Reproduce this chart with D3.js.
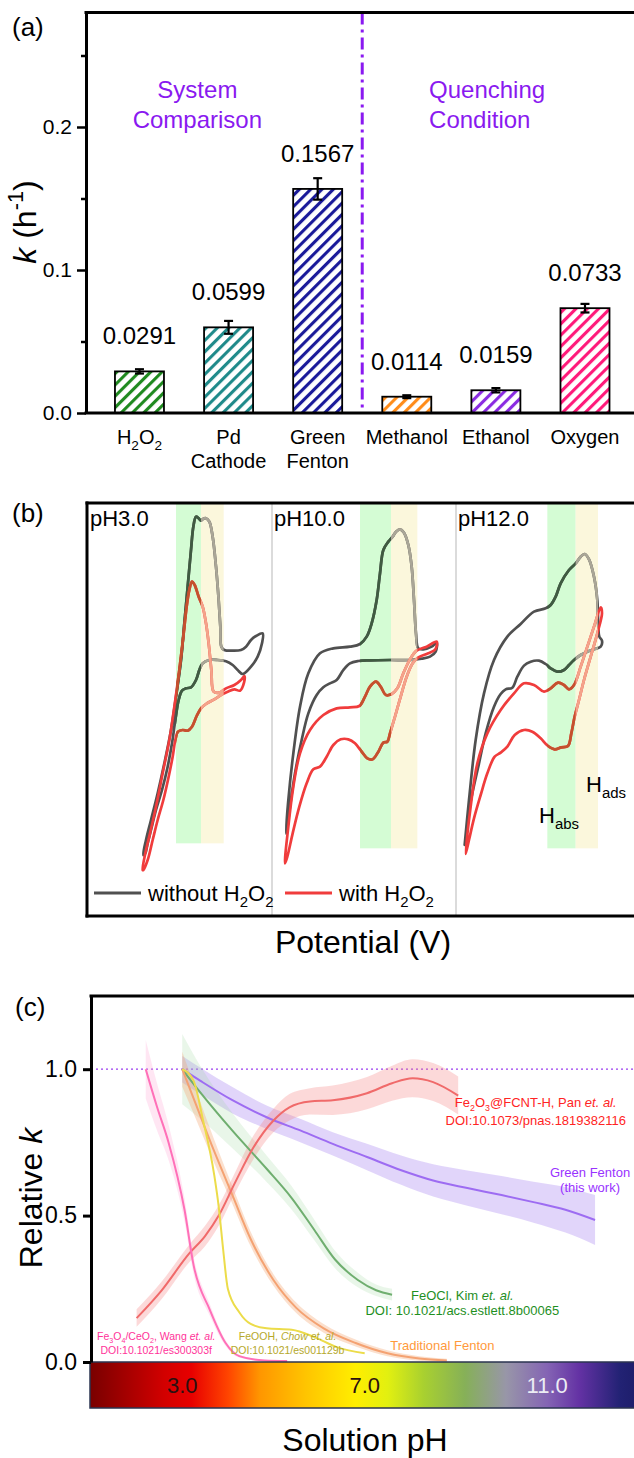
<!DOCTYPE html>
<html>
<head>
<meta charset="utf-8">
<script src="https://cdn.jsdelivr.net/npm/d3@7"></script>
<style>
  body { margin: 0; background: #fff; }
  svg { display: block; font-family: "Liberation Sans", Arial, sans-serif; }
</style>
</head>
<body>
<div class="container"></div>
<script>
// ---------- (a) rate constants ----------
const categoryLines = [["H_{2}O_{2}"], ["Pd", "Cathode"], ["Green", "Fenton"], ["Methanol"], ["Ethanol"], ["Oxygen"]];
const rateValues = [0.0291, 0.0599, 0.1567, 0.0114, 0.0159, 0.0733];
const rateErrors = [0.0015, 0.0045, 0.0075, 0.001, 0.0015, 0.003];
const barColors = ["#1f8a1f", "#1f8a8a", "#1a1a9a", "#ff8c1a", "#8a2be2", "#ff1a7a"];
const yTicksA = [0, 0.1, 0.2];
const yMinorA = [0.05, 0.15, 0.25];

// ---------- (b) cyclic voltammograms (potential / current, a.u.) ----------
const cvLabels = ["pH3.0", "pH10.0", "pH12.0"];
const cvGray3 = [[17.2,19.5],[18.0,24.0],[19.5,30.0],[21.5,38.0],[23.5,47.0],[25.5,57.0],[27.0,67.0],[28.5,78.0],[29.5,89.0],[30.5,100.0],[31.5,111.0],[32.2,118.0],[33.0,121.0],[33.8,120.5],[34.5,119.8],[35.2,120.4],[36.0,120.5],[37.0,119.5],[38.0,115.0],[39.0,106.0],[39.8,96.0],[40.3,88.0],[40.6,82.0],[41.5,81.0],[44.0,80.8],[46.5,81.0],[48.0,82.0],[49.5,84.0],[51.0,85.2],[53.0,86.0],[52.8,83.0],[51.5,79.0],[49.5,76.0],[47.0,73.8],[45.5,75.0],[44.0,76.5],[42.0,77.6],[39.5,78.0],[37.0,78.0],[35.0,77.0],[34.0,75.0],[33.0,72.0],[31.5,69.8],[30.0,69.5],[28.8,68.8],[27.8,66.0],[26.8,60.0],[25.8,53.0],[24.5,46.0],[22.8,39.0],[21.0,33.0],[19.5,27.0],[18.5,23.0],[17.8,20.0]];
const cvRed3 = [[17.0,15.0],[17.8,20.0],[19.2,26.0],[21.0,34.0],[23.0,44.0],[25.0,54.0],[26.5,64.0],[28.0,75.0],[29.2,85.0],[30.2,94.0],[31.0,99.0],[31.8,101.5],[32.6,100.5],[33.8,97.0],[35.0,94.0],[36.0,89.0],[36.8,83.0],[37.6,75.0],[38.3,68.5],[40.0,68.2],[42.0,69.5],[44.5,70.5],[46.5,72.0],[47.5,73.2],[47.4,71.2],[46.2,68.8],[44.5,69.2],[42.5,68.5],[41.0,67.8],[38.5,66.2],[36.0,64.8],[34.5,63.5],[33.2,61.2],[31.8,58.0],[30.5,56.8],[29.0,57.0],[27.6,56.5],[26.8,54.0],[26.0,49.0],[24.8,43.0],[23.2,36.0],[21.5,30.0],[20.0,24.0],[18.5,18.0],[17.2,15.0]];
const cvGray10 = [[4.8,26.0],[5.5,36.0],[7.0,50.0],[9.0,64.0],[11.5,74.0],[15.0,80.0],[19.0,81.5],[24.0,82.0],[27.0,82.8],[29.0,85.0],[30.5,89.0],[32.0,96.0],[33.0,104.0],[34.0,111.0],[35.5,113.5],[36.8,115.0],[37.8,116.5],[39.0,117.2],[40.2,116.2],[41.5,112.5],[42.5,106.0],[43.2,96.0],[43.8,86.0],[44.5,81.5],[46.0,81.2],[48.5,82.0],[50.0,83.2],[49.7,80.5],[48.0,79.0],[45.5,78.4],[42.0,78.0],[36.0,78.0],[30.0,77.9],[26.5,77.7],[24.0,77.0],[22.0,75.0],[20.0,72.0],[18.0,71.0],[16.0,69.8],[14.0,67.5],[11.5,62.0],[9.5,54.0],[7.5,44.0],[6.0,34.0],[5.0,26.5]];
const cvRed10 = [[4.5,17.0],[5.5,28.0],[7.0,40.0],[9.0,50.0],[12.0,57.0],[16.0,61.5],[20.0,63.5],[24.0,63.8],[26.8,64.2],[28.5,67.0],[30.0,70.0],[31.8,71.5],[33.2,70.0],[34.8,67.5],[36.5,67.8],[38.2,69.5],[40.0,74.0],[42.0,78.2],[44.0,80.8],[47.0,82.0],[50.0,83.5],[49.6,81.2],[47.0,79.8],[44.5,78.8],[42.8,77.0],[41.0,73.0],[39.2,67.0],[37.5,61.0],[36.0,56.0],[35.2,53.5],[34.0,53.2],[32.5,50.5],[30.8,48.2],[29.2,48.5],[27.5,50.5],[25.5,53.0],[23.5,54.2],[21.2,54.2],[19.0,52.5],[17.0,49.0],[15.0,46.0],[13.0,45.2],[11.0,41.0],[8.8,34.0],[6.8,26.0],[5.2,19.0]];
const cvGray12 = [[3.2,22.5],[4.5,36.0],[6.5,54.0],[9.0,68.0],[12.0,78.0],[16.0,85.0],[20.0,88.8],[24.0,92.5],[27.5,93.5],[29.0,94.5],[30.5,97.0],[32.0,101.0],[34.5,105.0],[36.5,107.0],[38.0,109.0],[39.2,109.8],[40.5,108.2],[42.0,103.0],[43.0,96.0],[43.3,88.0],[43.6,85.0],[44.4,83.8],[44.0,82.0],[42.0,81.2],[40.0,80.5],[38.0,79.5],[36.0,78.0],[34.5,76.5],[33.0,75.0],[31.0,74.5],[29.0,75.5],[27.5,76.8],[25.5,77.8],[23.0,77.5],[21.0,76.3],[19.0,73.0],[17.5,69.7],[15.5,69.2],[14.0,67.8],[12.0,64.0],[9.5,56.0],[7.5,47.0],[5.5,38.0],[4.0,30.0]];
const cvRed12 = [[3.5,19.8],[5.0,34.0],[7.0,47.0],[10.0,56.0],[14.0,63.0],[18.0,68.0],[21.0,71.0],[24.0,70.5],[27.0,68.5],[29.0,69.5],[31.2,71.2],[33.0,70.5],[34.5,69.2],[36.0,70.5],[38.0,76.0],[40.0,82.0],[42.0,88.0],[44.0,93.8],[44.4,92.0],[43.0,86.0],[41.0,79.0],[39.0,72.0],[37.5,66.0],[36.2,61.0],[35.2,56.0],[34.2,52.2],[32.2,51.8],[30.2,51.2],[28.2,52.2],[26.0,54.5],[23.5,56.5],[21.0,57.0],[18.2,55.5],[16.0,52.0],[14.0,50.2],[12.2,49.0],[10.0,44.0],[8.0,37.5],[6.0,30.5],[4.5,24.0]];
// [H_abs start, H_abs end / H_ads start, H_ads end, lower current limit]
const cvBands = [[27, 34.5, 41.3, 23], [27, 36.3, 44.2, 21.5], [28, 36.5, 43.2, 21.5]];

// ---------- (c) relative k vs pH: [pH, k, band half-width] ----------
const wangData = [[2.2,1.0,0.1],[2.45,0.87,0.08],[2.7,0.75,0.06],[3.05,0.52,0.04],[3.25,0.33,0.03],[3.6,0.18,0.02],[3.95,0.065,0.01],[4.25,0.02,0.005],[4.8,0.005,0.003],[5.3,0.003,0.002]];
const chowData = [[3.0,1.0,0],[3.25,0.96,0],[3.45,0.83,0],[3.7,0.64,0],[3.8,0.53,0],[3.9,0.38,0],[4.0,0.25,0],[4.25,0.17,0],[4.5,0.13,0],[4.85,0.115,0],[5.4,0.11,0],[5.9,0.085,0],[6.4,0.05,0],[7.0,0.03,0]];
const fentonData = [[3.0,1.0,0.06],[3.3,0.88,0.05],[3.7,0.72,0.04],[4.1,0.57,0.03],[4.5,0.42,0.025],[5.0,0.28,0.02],[5.5,0.185,0.018],[6.1,0.115,0.015],[6.8,0.065,0.012],[7.5,0.03,0.01],[8.2,0.012,0.008],[8.8,0.005,0.006]];
const kimData = [[3.0,1.0,0.12],[3.4,0.92,0.09],[4.1,0.79,0.06],[4.85,0.66,0.045],[5.4,0.56,0.04],[5.9,0.45,0.035],[6.35,0.35,0.03],[6.85,0.28,0.025],[7.25,0.245,0.02],[7.6,0.23,0.02]];
const panData = [[2.0,0.15,0.03],[2.55,0.245,0.03],[3.15,0.37,0.03],[3.5,0.43,0.035],[3.8,0.5,0.035],[4.15,0.61,0.035],[4.55,0.73,0.04],[5.0,0.825,0.04],[5.35,0.87,0.045],[5.8,0.89,0.045],[6.3,0.894,0.05],[7.05,0.918,0.055],[7.6,0.952,0.06],[8.05,0.969,0.065],[8.5,0.956,0.065],[9.05,0.91,0.065]];
const greenFentonData = [[3.0,1.0,0.045],[3.4,0.96,0.045],[4.1,0.894,0.045],[4.85,0.836,0.04],[5.6,0.79,0.04],[6.3,0.745,0.04],[7.05,0.70,0.045],[7.8,0.655,0.05],[8.5,0.62,0.055],[9.25,0.594,0.06],[10.0,0.57,0.065],[10.7,0.546,0.07],[11.4,0.52,0.078],[12.05,0.485,0.085]];
const phTicks = [3, 7, 11];
const yTicksC = [0, 0.5, 1.0];
const phColorStops = [[1,"#7a0000"],[2.6,"#d20000"],[3.2,"#e80000"],[4.0,"#ff4400"],[4.7,"#ff9600"],[5.7,"#ffc400"],[6.8,"#ffee00"],[7.5,"#e2f010"],[8.3,"#a8d030"],[9.2,"#86b058"],[10.1,"#9896a8"],[11.0,"#8464b4"],[11.7,"#6432a4"],[12.6,"#222274"],[14,"#101050"]];

const W = 634, H = 1458;
const svg = d3.select(".container").append("svg").attr("width", W).attr("height", H);
const defs = svg.append("defs");

// text with _{sub}, ^{sup}, *italic*
function richText(sel, str, size) {
  const parts = str.split(/(_\{[^}]*\}|\^\{[^}]*\}|\*[^*]*\*)/).filter((s) => s !== "");
  let offset = 0;
  parts.forEach((p) => {
    const t = sel.append("tspan");
    let txt = p, dy = 0;
    if (p.startsWith("_{")) {
      txt = p.slice(2, -1); dy = size * 0.28 - offset; offset = size * 0.28;
      t.attr("font-size", size * 0.68);
    } else if (p.startsWith("^{")) {
      txt = p.slice(2, -1); dy = -size * 0.4 - offset; offset = -size * 0.4;
      t.attr("font-size", size * 0.68);
    } else {
      if (p.startsWith("*")) { txt = p.slice(1, -1); t.attr("font-style", "italic"); }
      dy = -offset; offset = 0;
    }
    if (dy) t.attr("dy", dy);
    t.text(txt);
  });
}

// ================= (a) =================
const xA = d3.scaleLinear().domain([0.4, 6.55]).range([86, 634]);
const yA = d3.scaleLinear().domain([0, 0.28]).range([413, 12.6]);
const gA = svg.append("g");

svg.append("text").attr("x", 12).attr("y", 36).attr("font-size", 26).text("(a)");

// hatch patterns
barColors.forEach((c, i) => {
  const p = defs.append("pattern").attr("id", "hatch" + i)
    .attr("patternUnits", "userSpaceOnUse").attr("width", 8).attr("height", 8)
    .attr("patternTransform", "rotate(45)");
  p.append("rect").attr("width", 8).attr("height", 8).attr("fill", "#fff");
  p.append("line").attr("x1", 1.5).attr("y1", 0).attr("x2", 1.5).attr("y2", 8)
    .attr("stroke", c).attr("stroke-width", 3.2);
});

const bw = xA(1.55) - xA(1);
gA.selectAll("rect.bar").data(rateValues).enter().append("rect")
  .attr("class", "bar")
  .attr("x", (d, i) => xA(i + 1) - bw / 2)
  .attr("y", (d) => yA(d))
  .attr("width", bw)
  .attr("height", (d) => yA(0) - yA(d))
  .attr("fill", (d, i) => "url(#hatch" + i + ")")
  .attr("stroke", "#000").attr("stroke-width", 1.8);

// error bars
const eb = gA.selectAll("g.err").data(rateValues).enter().append("g")
  .attr("stroke", "#000").attr("stroke-width", 2.2);
eb.append("line").attr("x1", (d, i) => xA(i + 1)).attr("x2", (d, i) => xA(i + 1))
  .attr("y1", (d, i) => yA(d - rateErrors[i])).attr("y2", (d, i) => yA(d + rateErrors[i]));
[-1, 1].forEach((s) => {
  eb.append("line").attr("x1", (d, i) => xA(i + 1) - 4.5).attr("x2", (d, i) => xA(i + 1) + 4.5)
    .attr("y1", (d, i) => yA(d + s * rateErrors[i])).attr("y2", (d, i) => yA(d + s * rateErrors[i]));
});

// value labels
gA.selectAll("text.val").data(rateValues).enter().append("text")
  .attr("x", (d, i) => xA(i + 1)).attr("y", (d) => yA(d) - 27)
  .attr("text-anchor", "middle").attr("font-size", 24)
  .text((d) => d3.format(".4f")(d));

// category labels
categoryLines.forEach((lines, i) => {
  lines.forEach((ln, j) => {
    const t = gA.append("text").attr("x", xA(i + 1)).attr("y", 444 + j * 24)
      .attr("text-anchor", "middle").attr("font-size", 20);
    richText(t, ln, 20);
  });
});

// separator
gA.append("line").attr("x1", xA(3.5)).attr("x2", xA(3.5)).attr("y1", yA(0.28)).attr("y2", yA(0))
  .attr("stroke", "#8a19f0").attr("stroke-width", 3).attr("stroke-dasharray", "12,5,3,5");

[["System", "Comparison"]].forEach((lines) => lines.forEach((ln, j) =>
  gA.append("text").attr("x", xA(1.65)).attr("y", 98 + j * 30).attr("text-anchor", "middle")
    .attr("font-size", 24).attr("fill", "#8a19f0").text(ln)));
[["Quenching", "Condition"]].forEach((lines) => lines.forEach((ln, j) =>
  gA.append("text").attr("x", xA(4.25)).attr("y", 98 + j * 30)
    .attr("font-size", 24).attr("fill", "#8a19f0").text(ln)));

// axes + frame
const axA = gA.append("g").attr("transform", "translate(86,0)")
  .call(d3.axisLeft(yA).tickValues(yTicksA).tickSize(9).tickSizeOuter(0).tickPadding(5).tickFormat(d3.format(".1f")));
axA.select(".domain").attr("stroke-width", 3);
axA.selectAll(".tick line").attr("stroke-width", 2.5);
axA.selectAll(".tick text").attr("font-size", 21).attr("font-family", null);
const axAm = gA.append("g").attr("transform", "translate(86,0)")
  .call(d3.axisLeft(yA).tickValues(yMinorA).tickSize(5).tickSizeOuter(0).tickFormat(""));
axAm.select(".domain").remove();
axAm.selectAll(".tick line").attr("stroke-width", 2.5);
gA.append("line").attr("x1", 84.5).attr("x2", W).attr("y1", yA(0.28)).attr("y2", yA(0.28)).attr("stroke", "#000").attr("stroke-width", 3);
gA.append("line").attr("x1", 84.5).attr("x2", W).attr("y1", yA(0)).attr("y2", yA(0)).attr("stroke", "#000").attr("stroke-width", 3);

const ylabA = gA.append("text").attr("transform", "translate(36,222) rotate(-90)")
  .attr("text-anchor", "middle").attr("font-size", 32);
richText(ylabA, "*k* (h^{-1})", 32);

// ================= (b) =================
svg.append("text").attr("x", 12).attr("y", 522).attr("font-size", 26).text("(b)");
const gB = svg.append("g");
const subLeft = [86, 270, 454];
const cvSets = [[cvGray3, cvRed3], [cvGray10, cvRed10], [cvGray12, cvRed12]];
const yB = d3.scaleLinear().domain([0, 126]).range([920, 500]);
const grayC = ["#505050", "#3f5b41", "#aaa697"];
const redC = ["#f03c3c", "#c4512e", "#f4a38a"];

cvSets.forEach((set, k) => {
  const xB = d3.scaleLinear().domain([0, 57]).range([subLeft[k], subLeft[k] + 190]);
  const [g0, g1, y1, low] = cvBands[k];
  const bandTop = yB.range()[1] + 3;
  gB.append("rect").attr("x", xB(g0)).attr("width", xB(g1) - xB(g0))
    .attr("y", bandTop).attr("height", yB(low) - bandTop).attr("fill", "#d4fcd4");
  gB.append("rect").attr("x", xB(g1)).attr("width", xB(y1) - xB(g1))
    .attr("y", bandTop).attr("height", yB(low) - bandTop).attr("fill", "#fbf7dc");
  ["g", "y"].forEach((nm, j) => {
    const a = j === 0 ? g0 : g1, b = j === 0 ? g1 : y1;
    defs.append("clipPath").attr("id", "clip" + nm + k).append("rect")
      .attr("x", xB(a)).attr("width", xB(b) - xB(a)).attr("y", 490).attr("height", 440);
  });
  const line = d3.line().x((d) => xB(d[0])).y((d) => yB(d[1])).curve(d3.curveCatmullRomClosed.alpha(0.5));
  [[set[0], grayC], [set[1], redC]].forEach(([data, cols]) => {
    [null, "g", "y"].forEach((clip, j) => {
      const p = gB.append("path").attr("d", line(data)).attr("fill", "none")
        .attr("stroke", cols[j]).attr("stroke-width", 2.7).attr("stroke-linejoin", "round");
      if (clip) p.attr("clip-path", "url(#clip" + clip + k + ")");
    });
  });
  gB.append("text").attr("x", subLeft[k] + 4).attr("y", 526).attr("font-size", 22).text(cvLabels[k]);
});

// H labels
richText(gB.append("text").attr("x", 539).attr("y", 823).attr("font-size", 22), "H_{abs}", 22);
richText(gB.append("text").attr("x", 586).attr("y", 792).attr("font-size", 22), "H_{ads}", 22);

// frame
[272, 456].forEach((x) => gB.append("line").attr("x1", x).attr("x2", x).attr("y1", 503).attr("y2", 916)
  .attr("stroke", "#cfcfcf").attr("stroke-width", 1.5));
gB.append("line").attr("x1", 87).attr("x2", 87).attr("y1", 501.5).attr("y2", 917.5).attr("stroke", "#000").attr("stroke-width", 3);
[503, 916].forEach((y) => gB.append("line").attr("x1", 85.5).attr("x2", W).attr("y1", y).attr("y2", y)
  .attr("stroke", "#000").attr("stroke-width", 3));

// legend
[["without H_{2}O_{2}", grayC[0], 94], ["with H_{2}O_{2}", redC[0], 285]].forEach(([lab, c, x]) => {
  gB.append("line").attr("x1", x).attr("x2", x + 47).attr("y1", 893).attr("y2", 893).attr("stroke", c).attr("stroke-width", 3);
  richText(gB.append("text").attr("x", x + 54).attr("y", 901).attr("font-size", 22), lab, 22);
});
gB.append("text").attr("x", 363).attr("y", 953).attr("text-anchor", "middle").attr("font-size", 32).text("Potential (V)");

// ================= (c) =================
svg.append("text").attr("x", 15).attr("y", 1016).attr("font-size", 26).text("(c)");
const gC = svg.append("g");
const xC = d3.scaleLinear().domain([1, 14]).range([91, 684]);
const yC = d3.scaleLinear().domain([0, 1.25]).range([1362, 996]);

const series = [
  { data: greenFentonData, line: "#9d6cf2", band: "#a884f0", op: 0.34 },
  { data: kimData, line: "#6fae6f", band: "#9ad69a", op: 0.22 },
  { data: fentonData, line: "#f4a272", band: "#f4a878", op: 0.36 },
  { data: panData, line: "#f06a6a", band: "#f58080", op: 0.3 },
  { data: wangData, line: "#ff70b8", band: "#ff9cd0", op: 0.25 },
  { data: chowData, line: "#ecdc4a", band: "#ecdc4a", op: 0 },
];
const area = d3.area().x((d) => xC(d[0])).y0((d) => yC(d[1] - d[2])).y1((d) => yC(d[1] + d[2])).curve(d3.curveMonotoneX);
const lineC = d3.line().x((d) => xC(d[0])).y((d) => yC(d[1])).curve(d3.curveMonotoneX);

gC.append("line").attr("x1", 91).attr("x2", W).attr("y1", yC(1)).attr("y2", yC(1))
  .attr("stroke", "#9b3cf0").attr("stroke-width", 1.3).attr("stroke-dasharray", "2,3");

series.forEach((s) => {
  if (s.op > 0) gC.append("path").attr("d", area(s.data)).attr("fill", s.band).attr("fill-opacity", s.op);
});
series.forEach((s) => {
  gC.append("path").attr("d", lineC(s.data)).attr("fill", "none").attr("stroke", s.line).attr("stroke-width", 2);
});

// colour bar
const grad = defs.append("linearGradient").attr("id", "phgrad")
  .attr("gradientUnits", "userSpaceOnUse").attr("x1", xC(1)).attr("x2", xC(14)).attr("y1", 0).attr("y2", 0);
phColorStops.forEach(([ph, c]) => grad.append("stop").attr("offset", (ph - 1) / 13).attr("stop-color", c));
gC.append("rect").attr("x", 90).attr("y", yC(0)).attr("width", W - 89).attr("height", 46)
  .attr("fill", "url(#phgrad)").attr("stroke", "#2b3550").attr("stroke-width", 1.5);
gC.selectAll("text.ph").data(phTicks).enter().append("text")
  .attr("x", (d) => xC(d)).attr("y", 1393).attr("text-anchor", "middle").attr("font-size", 22)
  .attr("fill", (d) => (d > 10 ? "#ececf4" : "#2a1010"))
  .text((d) => d3.format(".1f")(d));

// annotations
const notes = [
  { lines: ["Fe_{2}O_{3}@FCNT-H, Pan *et. al.*", "DOI:10.1073/pnas.1819382116"], color: "#ff2424", ph: 10.75, k: [0.871, 0.809], size: 13, anchor: "middle" },
  { lines: ["Green Fenton", "(this work)"], color: "#9933ff", ph: 11.94, k: [0.632, 0.581], size: 13, anchor: "middle" },
  { lines: ["FeOCl, Kim *et. al.*", "DOI: 10.1021/acs.estlett.8b00065"], color: "#1f8f1f", ph: 9.14, k: [0.212, 0.161], size: 13, anchor: "middle" },
  { lines: ["Fe_{3}O_{4}/CeO_{2}, Wang *et. al.*", "DOI:10.1021/es300303f"], color: "#ff3399", ph: 2.43, k: [0.075, 0.027], size: 10.5, anchor: "middle" },
  { lines: ["FeOOH, *Chow et. al.*", "DOI:10.1021/es001129b"], color: "#b5a82a", ph: 5.31, k: [0.075, 0.027], size: 10.5, anchor: "middle" },
  { lines: ["Traditional Fenton"], color: "#ff9a3c", ph: 7.56, k: [0.041], size: 13, anchor: "start" },
];
notes.forEach((n) => n.lines.forEach((ln, j) => {
  const t = gC.append("text").attr("x", xC(n.ph)).attr("y", yC(n.k[j]))
    .attr("text-anchor", n.anchor).attr("font-size", n.size).attr("fill", n.color);
  richText(t, ln, n.size);
}));

// axes + frame
const axC = gC.append("g").attr("transform", "translate(91,0)")
  .call(d3.axisLeft(yC).tickValues(yTicksC).tickSize(8).tickSizeOuter(0).tickPadding(6).tickFormat(d3.format(".1f")));
axC.select(".domain").attr("stroke-width", 3);
axC.selectAll(".tick line").attr("stroke-width", 3);
axC.selectAll(".tick text").attr("font-size", 23).attr("font-family", null);
gC.append("line").attr("x1", 89.5).attr("x2", W).attr("y1", yC(1.25)).attr("y2", yC(1.25)).attr("stroke", "#000").attr("stroke-width", 3);

const ylabC = gC.append("text").attr("transform", "translate(42,1198) rotate(-90)")
  .attr("text-anchor", "middle").attr("font-size", 32);
richText(ylabC, "Relative *k*", 32);
gC.append("text").attr("x", 365).attr("y", 1451).attr("text-anchor", "middle").attr("font-size", 32).text("Solution pH");
</script>
</body>
</html>
